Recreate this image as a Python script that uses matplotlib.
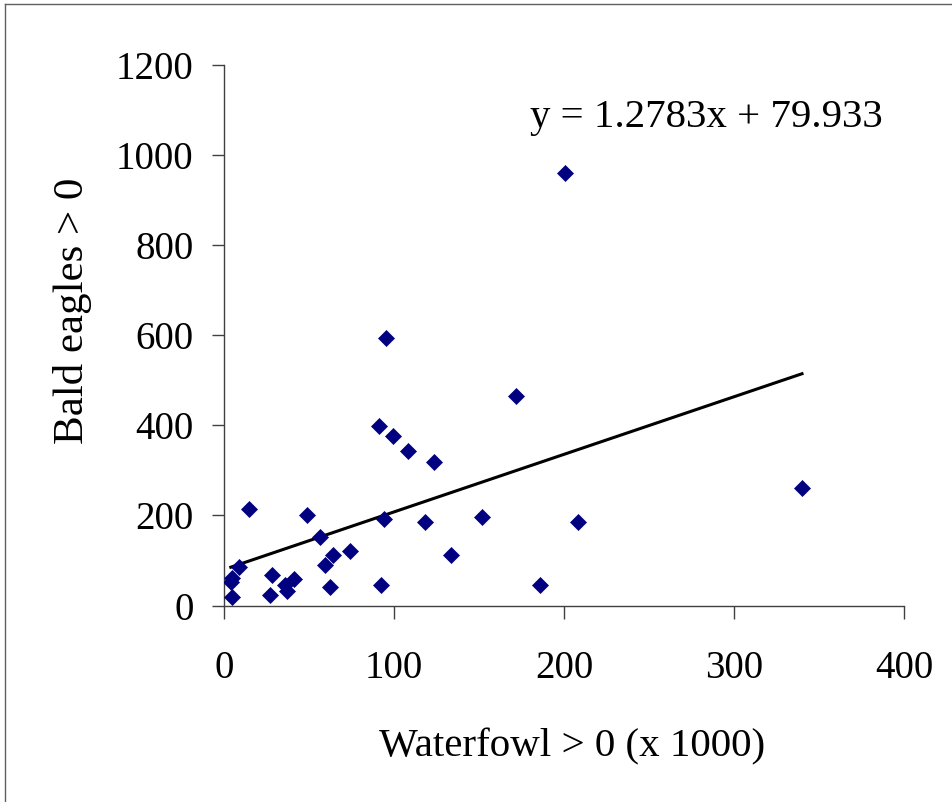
import matplotlib
matplotlib.use("Agg")
import matplotlib.pyplot as plt
import numpy as np
from matplotlib.lines import Line2D

# Data
waterfowl = [4.5, 4, 5, 9, 15, 27, 28, 36, 37, 41, 49, 56.5, 59.5, 64, 62.5, 74,
             91, 92.5, 94, 95, 99.5, 108.5, 118.5, 123.3, 133.5, 151.6, 172, 186,
             200.6, 208, 340]
eagles = [19, 52, 60, 85, 214, 23, 68, 46, 33, 58, 202, 153, 90, 112, 40, 120,
          398, 46, 191, 595, 376, 343, 186, 319, 112, 197, 466, 45, 960, 186, 261]
slope, intercept = 1.2783, 79.933
x_ticks = [0, 100, 200, 300, 400]
y_ticks = [0, 200, 400, 600, 800, 1000, 1200]
x_label = "Waterfowl > 0 (x 1000)"
y_label = "Bald eagles > 0"
equation = "y = 1.2783x + 79.933"

plt.rcParams['font.family'] = ['Liberation Serif', 'DejaVu Serif']

fig = plt.figure(figsize=(9.53, 8.02), dpi=100)
ax = fig.add_axes([224/953, 1 - 605.5/802, (904-224)/953, (605.5-65)/802])

ax.plot(waterfowl, eagles, linestyle='none', marker='D', markersize=8,
        color='#000080', markeredgecolor='#000080', markeredgewidth=0.5, zorder=3)

xs = np.array([min(waterfowl), max(waterfowl)])
ax.plot(xs, slope * xs + intercept, color='black', linewidth=2.2, zorder=2)

ax.set_xlim(0, 400)
ax.set_ylim(0, 1200)
ax.set_xticks(x_ticks)
ax.set_yticks(y_ticks)
ax.tick_params(axis='both', labelsize=28, direction='out', length=9, width=1,
               color='#404040')
ax.tick_params(axis='x', pad=23)
ax.tick_params(axis='y', pad=13)
for s in ['top', 'right']:
    ax.spines[s].set_visible(False)
for s in ['left', 'bottom']:
    ax.spines[s].set_color('#404040')
    ax.spines[s].set_linewidth(1)

ax.set_xlabel(x_label, fontsize=29.5, labelpad=30)
ax.set_ylabel(y_label, fontsize=31, labelpad=17)
ax.xaxis.label.set_x(0.512)
ax.yaxis.label.set_y(0.545)

ax.text(180, 1083, equation, fontsize=29.4, va='center', ha='left')

# outer chart border
fig.add_artist(Line2D([5/953, 5/953], [-0.01, 1 - 4/802], transform=fig.transFigure,
                      color='#606060', linewidth=1))
fig.add_artist(Line2D([5/953, 1.01], [1 - 4/802, 1 - 4/802], transform=fig.transFigure,
                      color='#606060', linewidth=1))

fig.savefig("out.png", dpi=100)
